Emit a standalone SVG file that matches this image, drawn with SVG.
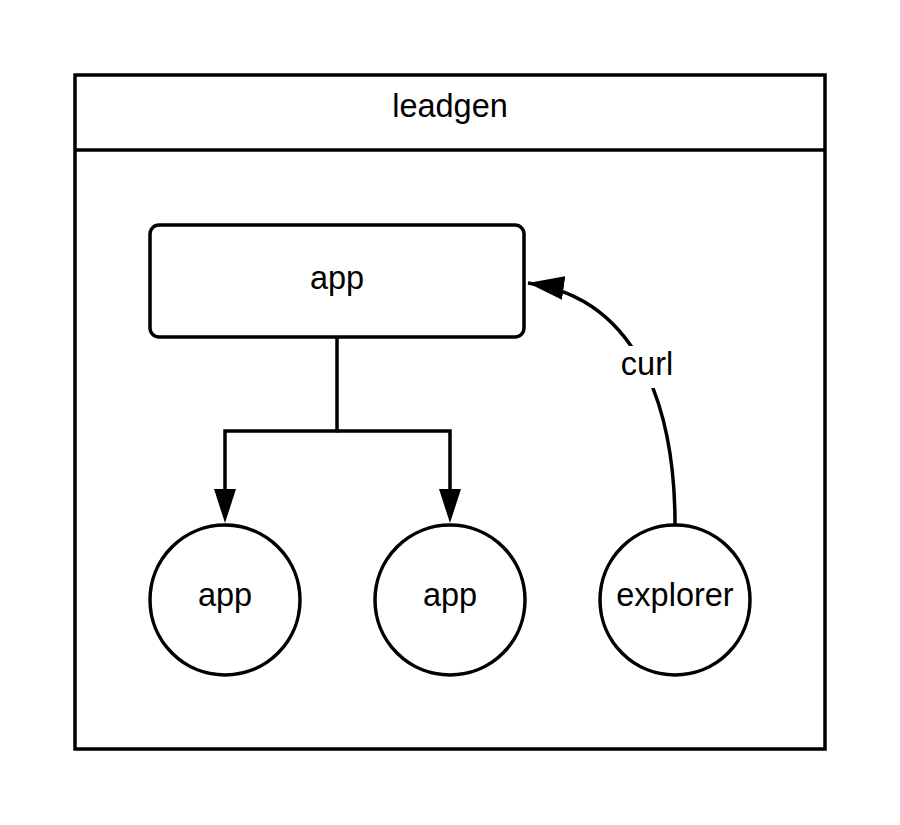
<svg xmlns="http://www.w3.org/2000/svg" width="900" height="825" viewBox="0 0 900 825">
<style>
.s{fill:#fff;stroke:#000;stroke-width:3.5}
.t{font-family:"Liberation Sans",Arial,sans-serif;font-size:32.5px;fill:#000;text-anchor:middle}
.c{fill:none;stroke:#000;stroke-width:3.5}
</style>
<defs>
<marker id="a" viewBox="0 0 36 24" refX="36" refY="12" markerWidth="36" markerHeight="24" orient="auto" markerUnits="userSpaceOnUse">
<path d="M0,0 L36,12 L0,24 Z" fill="#000"/>
</marker>
</defs>
<g id="leadgen">
<rect class="s" x="75" y="75" width="750" height="674"/>
<line class="c" x1="75" y1="150" x2="825" y2="150"/>
<text class="t" x="450" y="117">leadgen</text>
</g>
<g id="connectors">
<path class="c" d="M337,337 V431 H225 V490"/>
<path class="c" d="M337,431 H450 V490"/>
<path d="M214,489 L236,489 L225,523 Z" fill="#000"/>
<path d="M439,489 L461,489 L450,523 Z" fill="#000"/>
<path class="c" d="M675,524 C675,430 650,300 528,283" marker-end="url(#a)"/>
<rect x="612" y="346" width="70" height="42" fill="#fff"/>
<text class="t" x="647" y="375">curl</text>
</g>
<g id="app-main">
<rect class="s" x="150" y="225" width="374" height="112" rx="9"/>
<text class="t" x="337" y="289">app</text>
</g>
<g id="app-1">
<circle class="s" cx="225" cy="600" r="75"/>
<text class="t" x="225" y="606">app</text>
</g>
<g id="app-2">
<circle class="s" cx="450" cy="600" r="75"/>
<text class="t" x="450" y="606">app</text>
</g>
<g id="explorer">
<circle class="s" cx="675" cy="600" r="75"/>
<text class="t" x="675" y="606">explorer</text>
</g>
</svg>
